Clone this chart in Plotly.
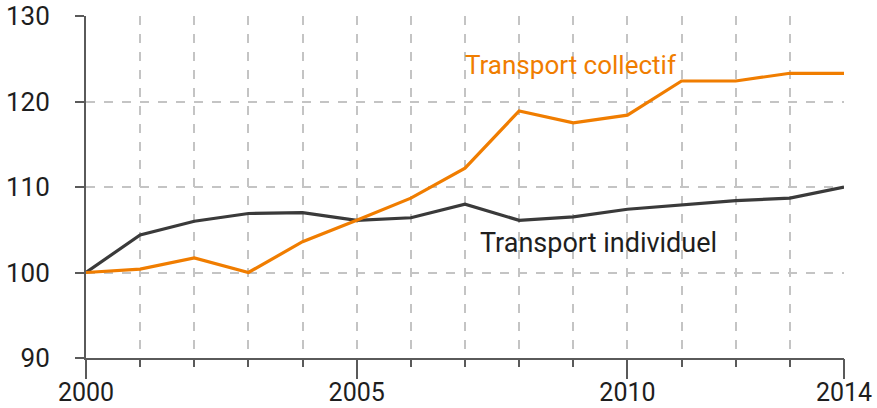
import plotly.graph_objects as go

years = list(range(2000, 2015))
individuel = [100, 104.4, 106.0, 106.9, 107.0, 106.1, 106.4, 108.0, 106.1, 106.5, 107.4, 107.9, 108.4, 108.7, 110.0]
collectif = [100, 100.4, 101.7, 100.0, 103.6, 106.1, 108.7, 112.2, 118.9, 117.5, 118.4, 122.4, 122.4, 123.3, 123.3]
major_years = [2000, 2005, 2010, 2014]
y_ticks = [90, 100, 110, 120, 130]

orange = "#F07D00"
dark = "#3a3a3a"
axis_col = "#5a5a5a"
grid_col = "#c4c4c4"
text_col = "#1e1e1e"
font_family = "Roboto"

fig = go.Figure()
# invisible helper trace carrying the long major ticks axis
fig.add_trace(go.Scatter(x=years, y=individuel, mode="lines", xaxis="x2",
                         line=dict(color="rgba(0,0,0,0)", width=0), hoverinfo="skip", showlegend=False))
fig.add_trace(go.Scatter(x=years, y=individuel, mode="lines",
                         line=dict(color=dark, width=3.2), showlegend=False))
fig.add_trace(go.Scatter(x=years, y=collectif, mode="lines",
                         line=dict(color=orange, width=3.2), showlegend=False))

fig.add_annotation(x=2008.95, y=124.3, text="Transport collectif", showarrow=False,
                   font=dict(color=orange, size=26, family=font_family), xanchor="center", yanchor="middle")
fig.add_annotation(x=2009.47, y=103.45, text="Transport individuel", showarrow=False,
                   font=dict(color=text_col, size=27, family=font_family), xanchor="center", yanchor="middle")

fig.update_layout(
    xaxis=dict(range=[2000, 2014], tickvals=major_years, ticktext=[str(v) for v in major_years],
               ticks="outside", ticklen=11, tickwidth=1.5, tickcolor=axis_col,
               showline=True, linecolor=axis_col, linewidth=2, automargin=False,
               showgrid=True, gridcolor=grid_col, griddash="dash", gridwidth=1.5,
               minor=dict(tickvals=years, ticks="outside", ticklen=7, tickwidth=1.5, tickcolor=axis_col,
                          showgrid=True, gridcolor=grid_col, griddash="dash", gridwidth=1.5),
               zeroline=False, tickfont=dict(size=25, color=text_col, family=font_family)),
    xaxis2=dict(range=[2000, 2014], overlaying="x", anchor="y", side="bottom",
                tickvals=major_years, showticklabels=False, ticks="outside", ticklen=20,
                tickwidth=1.5, tickcolor=axis_col, showgrid=False, zeroline=False,
                showline=False, automargin=False),
    yaxis=dict(range=[90, 130], tickvals=y_ticks, ticks="outside", ticklen=9, tickwidth=1.5,
               tickcolor=axis_col, showline=True, linecolor=axis_col, linewidth=2, automargin=False,
               ticklabelstandoff=20,
               showgrid=True, gridcolor=grid_col, griddash="dash", gridwidth=1.5,
               zeroline=False, tickfont=dict(size=26, color=text_col, family=font_family)),
    width=877, height=408, margin=dict(l=86, r=33, t=16, b=50),
    plot_bgcolor="white", paper_bgcolor="white")

fig.write_html("out.html", config={"displayModeBar": False},
               post_script="document.body.style.margin='0px';document.body.style.overflow='hidden';")
